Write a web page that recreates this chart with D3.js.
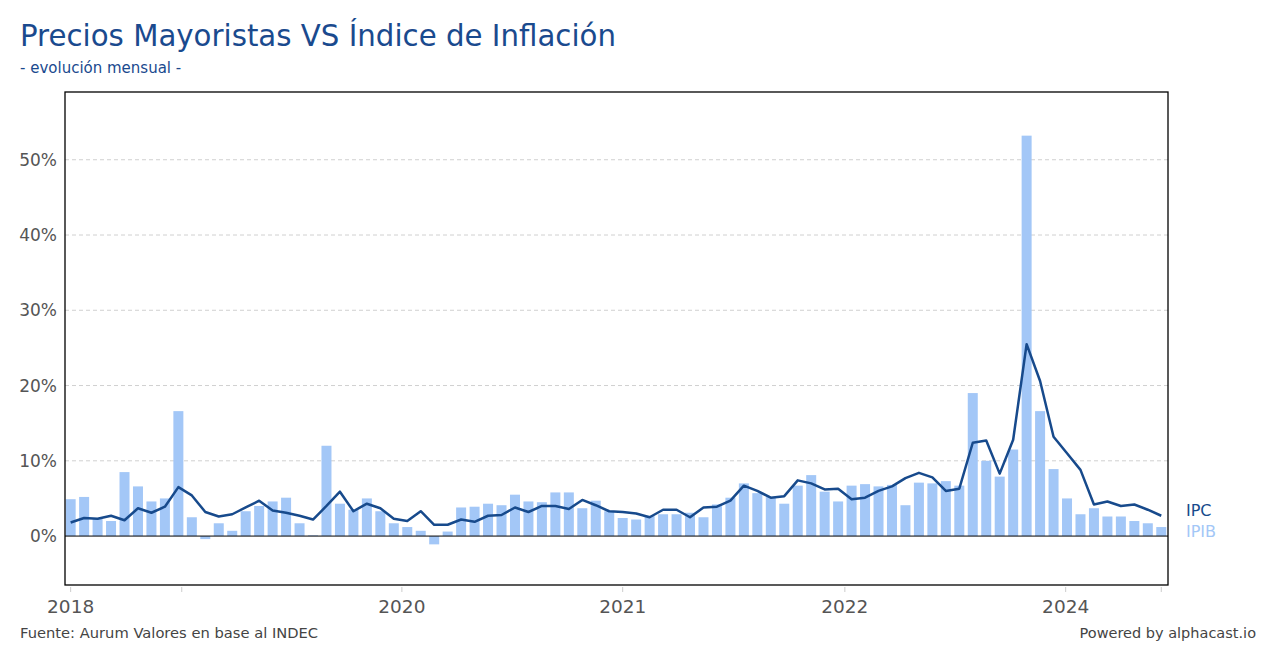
<!DOCTYPE html>
<html>
<head>
<meta charset="utf-8">
<script src="https://cdn.jsdelivr.net/npm/d3@7"></script>
<style>
  body { margin: 0; background: #fff; }
  text { font-family: "DejaVu Sans", Verdana, sans-serif; }
</style>
</head>
<body>
<div id="chart"></div>
<script>
// monthly data, Jan 2018 .. Oct 2024
var startYear = 2018
var ipib = [
  4.9, 5.2, 2.3, 2.0, 8.5, 6.6, 4.6, 5.0, 16.6, 2.5, -0.4, 1.7,
  0.7, 3.3, 4.0, 4.6, 5.1, 1.7, 0.1, 12.0, 4.3, 3.5, 5.0, 3.3,
  1.7, 1.2, 0.7, -1.1, 0.6, 3.8, 3.9, 4.3, 4.1, 5.5, 4.6, 4.5,
  5.8, 5.8, 3.7, 4.7, 3.3, 2.4, 2.2, 2.7, 2.9, 2.9, 3.1, 2.5,
  4.2, 5.1, 7.0, 5.7, 5.2, 4.3, 6.7, 8.1, 5.9, 4.6, 6.7, 6.9,
  6.6, 6.8, 4.1, 7.1, 7.0, 7.3, 6.7, 19.0, 10.0, 7.9, 11.5, 53.2,
  16.6, 8.9, 5.0, 2.9, 3.7, 2.6, 2.6, 2.0, 1.7, 1.2
]
var ipc = [
  1.8, 2.4, 2.3, 2.7, 2.1, 3.7, 3.1, 3.9, 6.5, 5.4, 3.2, 2.6,
  2.9, 3.8, 4.7, 3.4, 3.1, 2.7, 2.2, 4.0, 5.9, 3.3, 4.3, 3.7,
  2.3, 2.0, 3.3, 1.5, 1.5, 2.2, 1.9, 2.7, 2.8, 3.8, 3.2, 4.0,
  4.0, 3.6, 4.8, 4.1, 3.3, 3.2, 3.0, 2.5, 3.5, 3.5, 2.5, 3.8,
  3.9, 4.7, 6.7, 6.0, 5.1, 5.3, 7.4, 7.0, 6.2, 6.3, 4.9, 5.1,
  6.0, 6.6, 7.7, 8.4, 7.8, 6.0, 6.3, 12.4, 12.7, 8.3, 12.8, 25.5,
  20.6, 13.2, 11.0, 8.8, 4.2, 4.6, 4.0, 4.2, 3.5, 2.7
]
// x tick positions (in months since Jan 2018) and their labels
var xTicks = [0, 8.25, 24.6, 41.0, 57.5, 73.9, 81]
var xTickLabels = ["2018", "", "2020", "2021", "2022", "2024", ""]
var yTicks = [0, 10, 20, 30, 40, 50]

var width = 1280
    height = 660
var plot = {left: 65, right: 1168, top: 92, bottom: 585}

var svg = d3.select("#chart")
  .append("svg")
    .attr("width", width)
    .attr("height", height)

var x = d3.scaleLinear()
  .domain([-0.42, 81.5])
  .range([plot.left, plot.right])

var y = d3.scaleLinear()
  .domain([-6.5, 59])
  .range([plot.bottom, plot.top])

var barW = 10

// title
var title = svg.append("text")
  .attr("x", 20)
  .attr("y", 46)
  .attr("fill", "#1a4a8e")
  .style("font-size", "30px")
  .text("Precios Mayoristas VS Índice de Inflación")
// squeeze to the width of the original
var tw = title.node().getComputedTextLength()
title.style("font-size", (30 * 596 / tw) + "px")

svg.append("text")
  .attr("x", 20)
  .attr("y", 73)
  .attr("fill", "#1a4a8e")
  .style("font-size", "15px")
  .text("- evolución mensual -")

// gridlines
svg.selectAll("grid")
  .data(yTicks.filter(function(d){ return d != 0 }))
  .enter()
  .append("line")
    .attr("x1", plot.left)
    .attr("x2", plot.right)
    .attr("y1", function(d){ return y(d) })
    .attr("y2", function(d){ return y(d) })
    .attr("stroke", "#d0d0d0")
    .attr("stroke-dasharray", "4,3")
    .attr("stroke-width", 1)

// y labels
svg.selectAll("ylab")
  .data(yTicks)
  .enter()
  .append("text")
    .attr("x", 57)
    .attr("y", function(d){ return y(d) + 6 })
    .attr("text-anchor", "end")
    .attr("fill", "#555")
    .style("font-size", "17px")
    .text(function(d){ return d + "%" })

// bars
svg.selectAll("bars")
  .data(ipib)
  .enter()
  .append("rect")
    .attr("x", function(d, i){ return x(i) - barW / 2 })
    .attr("y", function(d){ return y(Math.max(0, d)) })
    .attr("width", barW)
    .attr("height", function(d){ return Math.abs(y(d) - y(0)) })
    .attr("fill", "#a3c7f7")

// zero line
svg.append("line")
  .attr("x1", plot.left)
  .attr("x2", plot.right)
  .attr("y1", y(0))
  .attr("y2", y(0))
  .attr("stroke", "#000")
  .attr("stroke-width", 1)

// IPC line
var line = d3.line()
  .x(function(d, i){ return x(i) })
  .y(function(d){ return y(d) })

svg.append("path")
  .datum(ipc)
  .attr("d", line)
  .attr("fill", "none")
  .attr("stroke", "#174a8c")
  .attr("stroke-width", 2.5)
  .attr("stroke-linejoin", "round")

// frame
svg.append("rect")
  .attr("x", plot.left)
  .attr("y", plot.top)
  .attr("width", plot.right - plot.left)
  .attr("height", plot.bottom - plot.top)
  .attr("fill", "none")
  .attr("stroke", "#000")
  .attr("stroke-width", 1.3)

// x ticks
svg.selectAll("xtick")
  .data(xTicks)
  .enter()
  .append("line")
    .attr("x1", function(d){ return x(d) })
    .attr("x2", function(d){ return x(d) })
    .attr("y1", plot.bottom + 2)
    .attr("y2", plot.bottom + 7)
    .attr("stroke", "#ccc")

svg.selectAll("xlab")
  .data(xTicks)
  .enter()
  .append("text")
    .attr("x", function(d){ return x(d) })
    .attr("y", 613)
    .attr("text-anchor", "middle")
    .attr("fill", "#555")
    .style("font-size", "18.5px")
    .text(function(d, i){ return xTickLabels[i] })

// series labels at the right
svg.append("text")
  .attr("x", 1186)
  .attr("y", 516)
  .attr("fill", "#174a8c")
  .style("font-size", "16px")
  .text("IPC")
svg.append("text")
  .attr("x", 1186)
  .attr("y", 537)
  .attr("fill", "#a3c7f7")
  .style("font-size", "16px")
  .text("IPIB")

// footer
svg.append("text")
  .attr("x", 20)
  .attr("y", 638)
  .attr("fill", "#444")
  .style("font-size", "14.7px")
  .text("Fuente: Aurum Valores en base al INDEC")
svg.append("text")
  .attr("x", 1256)
  .attr("y", 638)
  .attr("text-anchor", "end")
  .attr("fill", "#444")
  .style("font-size", "14.5px")
  .text("Powered by alphacast.io")
</script>
</body>
</html>
